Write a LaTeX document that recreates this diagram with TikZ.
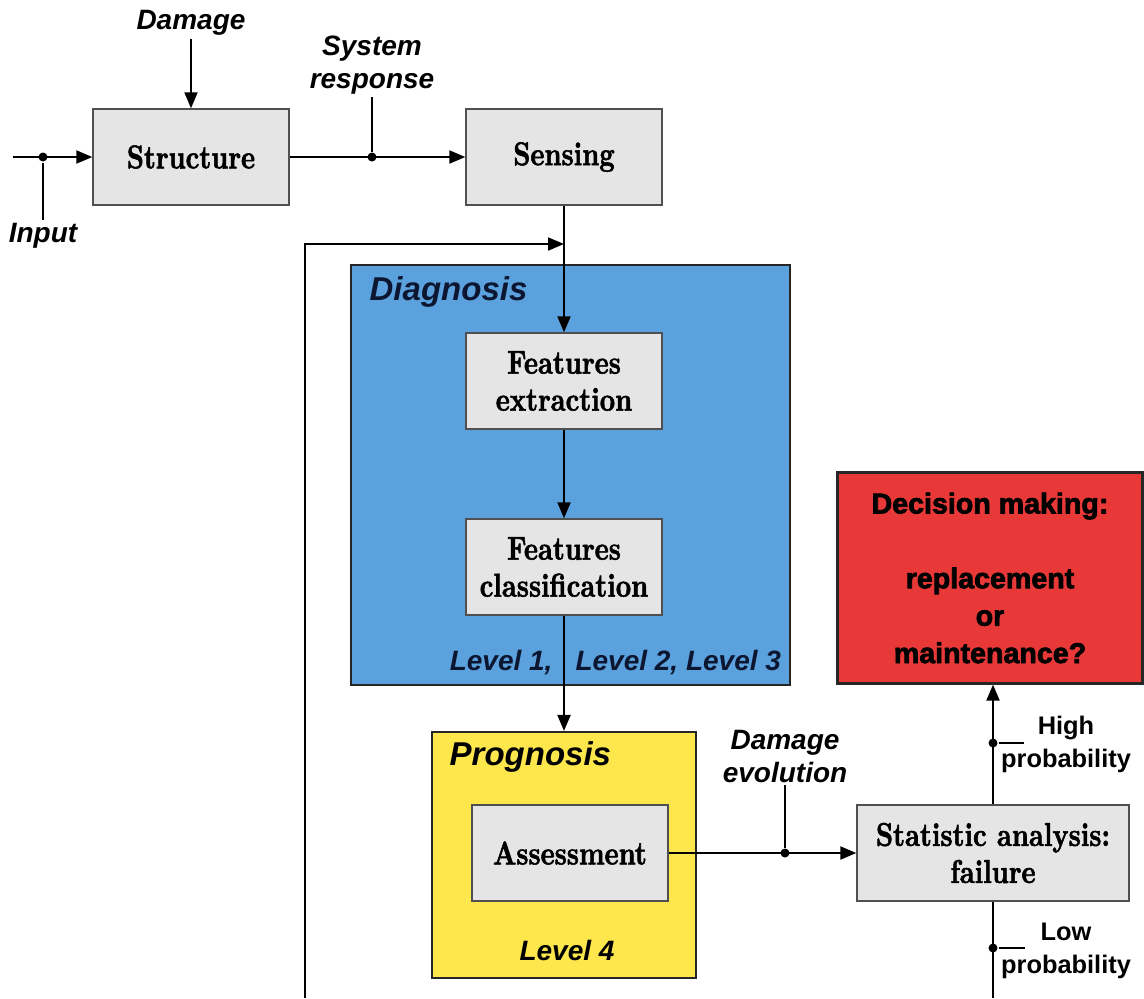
\documentclass[tikz,border=0pt]{standalone}
\usepackage{fontspec}
\setsansfont{Liberation Sans}
\newfontfamily\blockfam{lmroman10-bold.otf}[FakeStretch=0.81, FakeBold=1.6]
\newfontfamily\decfam{Liberation Sans}[BoldFeatures={FakeBold=2.5}]
\usetikzlibrary{arrows.meta, positioning}

\definecolor{boxgray}{RGB}{229,229,229}
\definecolor{boxline}{RGB}{80,80,80}
\definecolor{diagblue}{RGB}{91,161,222}
\definecolor{progyellow}{RGB}{253,231,76}
\definecolor{decred}{RGB}{232,57,56}
\definecolor{navy}{RGB}{12,22,48}

\newcommand{\blockfont}{\blockfam\fontsize{16.5}{18.5}\selectfont}
\newcommand{\tagfont}{\sffamily\bfseries\itshape\fontsize{14}{16.5}\selectfont}
\newcommand{\headfont}{\sffamily\bfseries\itshape\fontsize{16.5}{19}\selectfont}
\newcommand{\probfont}{\sffamily\bfseries\fontsize{12.7}{16.5}\selectfont}
\newcommand{\decfont}{\decfam\bfseries\fontsize{14.3}{18.7}\selectfont}

\begin{document}
\begin{tikzpicture}[x=0.5pt, y=-0.5pt, line width=1pt, >={Triangle[length=8pt, width=6.5pt]}]
    \tikzstyle{block}=[draw=boxline, fill=boxgray, line width=0.7pt, align=center, font=\blockfont, minimum width=98pt, minimum height=48pt, inner sep=0pt]
    \tikzstyle{frame}=[draw=black!85, line width=1.1pt, inner sep=0pt]
    \tikzstyle{tag}=[font=\tagfont, align=center, inner sep=1pt]
    \tikzstyle{dot}=[circle, fill=black, inner sep=0pt, minimum size=4.5pt]
    \useasboundingbox (0,0) rectangle (1144,998);

    % coloured frames
    \node[frame, fill=diagblue, minimum width=219.5pt, minimum height=210pt] (diag) at (570.5,475) {};
    \node[frame, fill=progyellow, minimum width=132pt, minimum height=123pt] (prog) at (564,855) {};
    \node[frame, fill=decred, minimum width=152.5pt, minimum height=105.5pt, font=\decfont, align=center] (dec) at (990,578) {Decision making:\\[18.7pt]replacement\\or\\maintenance?};

    % blocks
    \node[block] (struct) at (191,157) {Structure};
    \node[block] (sens) at (564,157) {Sensing};
    \node[block] (fext) at (564,381) {Features\\extraction};
    \node[block] (fcls) at (564,567) {Features\\classification};
    \node[block] (assess) at (570,853) {Assessment};
    \node[block, minimum width=136pt] (stat) at (993,853) {Statistic analysis:\\failure};

    % labels
    \node[tag] (dmg) at (191,23) {Damage};
    \node[tag] (sysr) at (372,65) {System\\response};
    \node[tag] (inp) at (43,236) {Input};
    \node[tag] (evo) at (785,756) {Damage\\evolution};
    \node[font=\headfont, text=navy, anchor=west] (diagt) at (362,292) {Diagnosis};
    \node[font=\headfont, anchor=west] (progt) at (442,757) {Prognosis};
    \node[tag, text=navy, anchor=east] (lvl) at (784,663) {Level 1,\hspace{11.5pt}Level 2, Level 3};
    \node[tag] (lvl4) at (567,950) {Level 4};
    \node[font=\probfont, align=center] (high) at (1066,744) {High\\probability};
    \node[font=\probfont, align=center] (low) at (1066,951) {Low\\probability};

    % free ends
    \coordinate (instart) at (13,157);
    \coordinate (fbstart) at (305,998);
    \coordinate (fbjoin) at (564,244);
    \coordinate (lowend) at (993,998);
    \coordinate (highend) at (1024,743);
    \coordinate (lowtip) at (1025,948);

    % junctions
    \node[dot] (idot) at (43,157) {};
    \node[dot] (sdot) at (372,157) {};
    \node[dot] (edot) at (785,853) {};
    \node[dot] (hdot) at (993,743) {};
    \node[dot] (ldot) at (993,948) {};

    \draw[->] (instart) -- (struct);
    \draw (idot) -- (inp);
    \draw[->] (dmg) -- (struct);
    \draw (sysr) -- (sdot);
    \draw[->] (struct) -- (sens);
    \draw[->] (sens) -- (fext);
    \draw[->] (fbstart) |- (fbjoin);
    \draw[->] (fext) -- (fcls);
    \draw[->] (fcls) -- (prog);
    \draw[->] (assess) -- (stat);
    \draw (evo) -- (edot);
    \draw[->] (stat) -- (stat.north |- dec.south);
    \draw (stat) -- (lowend);
    \draw (hdot) -- (highend);
    \draw (ldot) -- (lowtip);
\end{tikzpicture}
\end{document}
